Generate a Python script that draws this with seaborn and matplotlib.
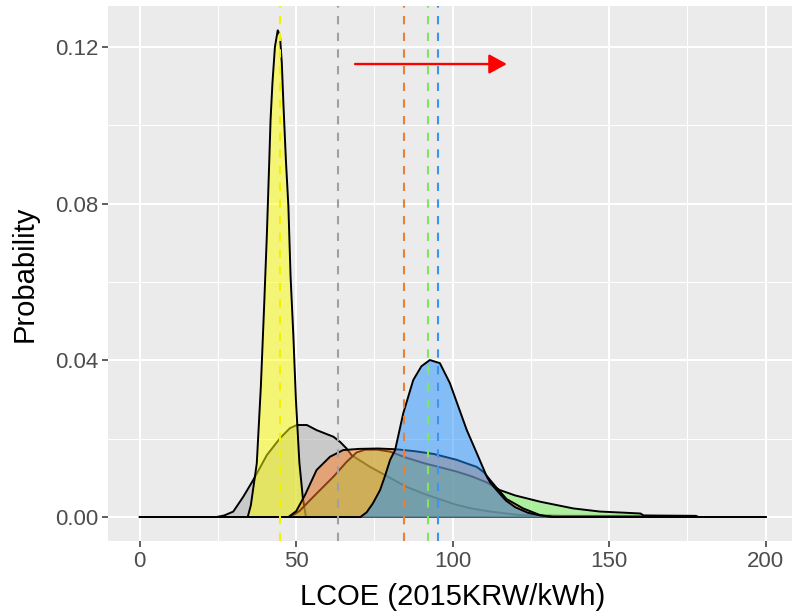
import numpy as np
import pandas as pd
import matplotlib
matplotlib.use("Agg")
import matplotlib.pyplot as plt
import seaborn as sns

# ---------------- data ----------------
grey_x = [0, 24.5, 27, 29.9, 33.1, 36.3, 40.6, 44.8, 48.0, 50.2, 53.4, 56.5, 61.9, 64.0,
          66.1, 67.7, 73.6, 78.9, 85, 90.6, 96, 101.3, 106, 111.9, 121.5, 135, 160, 177.6, 178.5, 200]
grey_y = [0, 0, 0.0004, 0.0014, 0.0052, 0.0095, 0.0158, 0.0201, 0.0227, 0.0235, 0.0235, 0.0222,
          0.0205, 0.0192, 0.0175, 0.0158, 0.0128, 0.0105, 0.0078, 0.006, 0.0045, 0.0031, 0.0022,
          0.0014, 0.0005, 0.0003, 0.0003, 0.0002, 0, 0]

yellow_x = [0, 34.5, 35.5, 37.4, 38.7, 39.7, 40.6, 41.4, 41.8, 42.4, 43.2, 44.1, 44.8, 45.4,
            45.9, 46.7, 47.5, 48.2, 49.1, 49.9, 51.0, 52.1, 53.1, 200]
yellow_y = [0, 0, 0.003, 0.0137, 0.0333, 0.0529, 0.0716, 0.0912, 0.1014, 0.1108, 0.1201, 0.1243,
            0.1231, 0.1159, 0.1057, 0.0912, 0.0793, 0.0614, 0.0461, 0.030, 0.014, 0.005, 0, 0]

green_x = [0, 48, 51, 54.4, 58, 62, 66, 69.3, 72, 76, 80, 85, 90.6, 96, 101.3, 106, 111, 115,
           120, 128, 138.5, 147, 155, 160, 161, 177.6, 178.5, 200]
green_y = [0, 0, 0.0015, 0.0043, 0.0072, 0.0104, 0.014, 0.0165, 0.0172, 0.0172, 0.0167, 0.0152,
           0.0138, 0.0127, 0.0116, 0.0104, 0.0088, 0.0069, 0.0055, 0.0039, 0.0022, 0.0014, 0.0011,
           0.0009, 0.0004, 0.0003, 0, 0]

orange_x = [0, 47.5, 50, 52.8, 56.5, 60.8, 65, 70, 76, 82, 88, 94, 101.3, 105.5, 107.7, 110,
            111.9, 114, 117.2, 122.5, 127.9, 132, 200]
orange_y = [0, 0, 0.0015, 0.0056, 0.012, 0.0154, 0.0171, 0.0174, 0.0175, 0.0173, 0.0168, 0.0161,
            0.0146, 0.0134, 0.0128, 0.0114, 0.0095, 0.0075, 0.0046, 0.0022, 0.0005, 0, 0]

blue_x = [0, 70.5, 72.5, 74.5, 76.8, 78.5, 80, 81.6, 84.2, 87.4, 90, 92.7, 95.9, 99.1, 101.8,
          104.5, 107.7, 110.9, 112, 114.1, 117, 120, 124, 128, 132, 200]
blue_y = [0, 0, 0.0012, 0.0035, 0.0069, 0.0108, 0.0146, 0.0171, 0.0265, 0.035, 0.0385, 0.0401,
          0.0393, 0.0342, 0.0282, 0.0222, 0.0163, 0.0103, 0.0088, 0.0068, 0.0042, 0.0025, 0.0011,
          0.0004, 0, 0]

series_names = ["grey", "yellow", "green", "orange", "blue"]          # drawing order
series_means = [63.4, 44.7, 92.1, 84.3, 95.2]                           # dashed lines
fill_colors = ["#A9A9A9", "#FFFF00", "#72F455", "#FF7F24", "#1E90FF"]
line_colors = ["#A0A0A0", "#F2F200", "#7CE85A", "#E8803A", "#3A95F0"]
series_x = [grey_x, yellow_x, green_x, orange_x, blue_x]
series_y = [grey_y, yellow_y, green_y, orange_y, blue_y]

x_ticks = [0, 50, 100, 150, 200]
x_tick_labels = ["0", "50", "100", "150", "200"]
y_ticks = [0.00, 0.04, 0.08, 0.12]
y_tick_labels = ["0.00", "0.04", "0.08", "0.12"]
x_minor = [25, 75, 125, 175]
y_minor = [0.02, 0.06, 0.10]

arrow_start = (68.8, 0.1157)
arrow_end = (117.3, 0.1157)

# ---------------- style ----------------
sns.set_theme(style="darkgrid", rc={
    "axes.facecolor": "#EBEBEB",
    "figure.facecolor": "white",
    "grid.color": "white",
    "grid.linewidth": 1.5,
    "xtick.bottom": True,
    "ytick.left": True,
})
plt.rcParams["font.family"] = ["Liberation Sans", "DejaVu Sans"]

fig = plt.figure(figsize=(7.92, 6.14), dpi=100)
ax = fig.add_axes([0.1369, 0.1184, 0.8694, 0.8717])

for name, xs, ys, fc in zip(series_names, series_x, series_y, fill_colors):
    df = pd.DataFrame({"x": xs, "y": ys})
    ax.fill_between(df["x"], df["y"], 0, color=fc, alpha=0.5, linewidth=0, zorder=2)
    sns.lineplot(data=df, x="x", y="y", color="black", linewidth=1.4, ax=ax,
                 sort=False, estimator=None, zorder=2)

for m, c in zip(series_means, line_colors):
    ax.axvline(m, color=c, linestyle=(0, (4, 4)), linewidth=1.5, zorder=3)

ax.annotate("", xy=arrow_end, xytext=arrow_start,
            arrowprops=dict(arrowstyle="-|>,head_length=0.4,head_width=0.22", color="red",
                            lw=1.7, mutation_scale=27, shrinkA=0, shrinkB=0), zorder=4)

ax.set_xlim(-10, 210)
ax.set_ylim(-0.0062, 0.1305)
ax.set_xticks(x_ticks)
ax.set_xticklabels(x_tick_labels)
ax.set_yticks(y_ticks)
ax.set_yticklabels(y_tick_labels)
ax.set_xticks(x_minor, minor=True)
ax.set_yticks(y_minor, minor=True)
ax.grid(which="major", color="white", linewidth=1.5)
ax.grid(which="minor", color="white", linewidth=0.75)
ax.set_axisbelow(True)

ax.tick_params(axis="both", which="major", length=4, width=1.1, color="#333333",
               labelsize=16, labelcolor="#4D4D4D", pad=3)
ax.tick_params(axis="both", which="minor", length=0)
for s in ax.spines.values():
    s.set_visible(False)

ax.set_xlabel("LCOE (2015KRW/kWh)", fontsize=21, color="black")
ax.set_ylabel("Probability", fontsize=21, color="black")
ax.xaxis.label.set_va("baseline")
ax.xaxis.set_label_coords(0.5, -0.119)
ax.yaxis.label.set_va("center")
ax.yaxis.set_label_coords(-0.121, 0.5)

fig.savefig("out.png", dpi=100)
